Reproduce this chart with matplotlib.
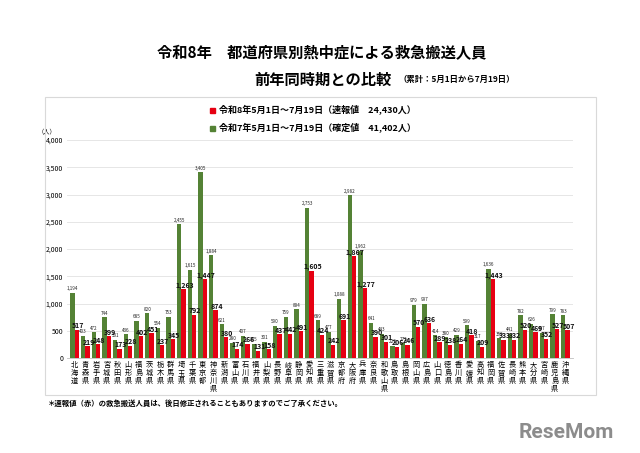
import matplotlib
matplotlib.use("Agg")
import matplotlib.pyplot as plt
from matplotlib.patches import Rectangle
from matplotlib.ticker import FuncFormatter, MultipleLocator

plt.rcParams['font.family'] = ['Noto Sans CJK JP', 'DejaVu Sans']

prefectures = ["北海道", "青森県", "岩手県", "宮城県", "秋田県", "山形県", "福島県", "茨城県", "栃木県", "群馬県",
               "埼玉県", "千葉県", "東京都", "神奈川県", "新潟県", "富山県", "石川県", "福井県", "山梨県", "長野県",
               "岐阜県", "静岡県", "愛知県", "三重県", "滋賀県", "京都府", "大阪府", "兵庫県", "奈良県", "和歌山県",
               "鳥取県", "島根県", "岡山県", "広島県", "山口県", "徳島県", "香川県", "愛媛県", "高知県", "福岡県",
               "佐賀県", "長崎県", "熊本県", "大分県", "宮崎県", "鹿児島県", "沖縄県"]

r7_values = [1194, 403, 472, 744, 331, 436, 685, 820, 554, 753,
             2455, 1615, 3405, 1884, 621, 280, 407, 255, 301, 590,
             759, 894, 2753, 689, 477, 1088, 2982, 1962, 641, 443,
             229, 272, 979, 997, 414, 380, 429, 599, 317, 1636,
             359, 441, 782, 626, 467, 799, 783]

r8_values = [517, 219, 248, 399, 173, 228, 402, 451, 237, 345,
             1263, 792, 1447, 874, 380, 174, 266, 131, 158, 437,
             442, 491, 1605, 424, 242, 691, 1867, 1277, 390, 301,
             206, 246, 570, 636, 289, 238, 264, 418, 209, 1443,
             333, 332, 520, 469, 352, 527, 507]

label_r8 = "令和8年5月1日～7月19日（速報値　24,430人）"
label_r7 = "令和7年5月1日～7月19日（確定値　41,402人）"

RED = "#e60012"
GREEN = "#548235"

fig = plt.figure(figsize=(6.4, 4.53), dpi=100)

# outer chart box
fig.patches.append(Rectangle((45/640, 1-395/453), (596-45)/640, (395-97)/453,
                             transform=fig.transFigure, fill=False, edgecolor="#d9d9d9", lw=0.8))

ax = fig.add_axes([0.105, 1-358/453, 0.79, 218/453])
x = list(range(len(prefectures)))
w = 0.4
ax.bar([i - w/2 for i in x], r7_values, width=w, color=GREEN, zorder=2)
ax.bar([i + w/2 for i in x], r8_values, width=w, color=RED, zorder=2)

for i in x:
    ax.text(i - w/2, r7_values[i] + 30, f"{r7_values[i]:,}", ha="center", va="bottom",
            fontsize=3.3, color="#222222", zorder=3)
    ax.text(i + w/2 + 0.1, r8_values[i] + 10, f"{r8_values[i]:,}", ha="center", va="bottom",
            fontsize=5.0, fontweight="bold", color="#111111", zorder=4)

ax.set_xlim(-0.7, len(prefectures) - 0.3)
ax.set_ylim(0, 4000)
ax.yaxis.set_major_locator(MultipleLocator(500))
ax.yaxis.set_major_formatter(FuncFormatter(lambda v, p: f"{int(v):,}"))
ax.grid(axis="y", color="#e6e6e6", lw=0.7, zorder=0)
for s in ["top", "right", "left"]:
    ax.spines[s].set_visible(False)
ax.spines["bottom"].set_color("#bfbfbf")
ax.spines["bottom"].set_linewidth(0.6)
ax.tick_params(axis="y", length=0, labelsize=5, pad=3)
ax.tick_params(axis="x", length=0, pad=2)
ax.set_xticks(x)
ax.set_xticklabels(["\n".join(p) for p in prefectures], fontsize=5.2, linespacing=1.0)
ax.text(-0.04, 1.02, "（人）", transform=ax.transAxes, fontsize=4.5, ha="center", va="bottom")

# titles
fig.text(322/640, 1-53/453, "令和8年　都道府県別熱中症による救急搬送人員", ha="center", va="center",
         fontsize=11, fontweight="bold")
fig.text(392/640, 1-80/453, "前年同時期との比較", ha="right", va="center", fontsize=11, fontweight="bold")
fig.text(398/640, 1-79/453, "（累計：5月1日から7月19日）", ha="left", va="center", fontsize=6, fontweight="bold")

# legend
fig.patches.append(Rectangle((210/640, 1-113/453), 5/640, 5/453, transform=fig.transFigure,
                             color=RED))
fig.text(219/640, 1-110.5/453, label_r8, ha="left", va="center", fontsize=6.5, fontweight="bold")
fig.patches.append(Rectangle((210/640, 1-131/453), 5/640, 5/453, transform=fig.transFigure,
                             color=GREEN))
fig.text(219/640, 1-128.5/453, label_r7, ha="left", va="center", fontsize=6.5, fontweight="bold")

# footnote
fig.text(48/640, 1-403/453, "＊速報値（赤）の救急搬送人員は、後日修正されることもありますのでご了承ください。",
         ha="left", va="center", fontsize=5.3, fontweight="bold")

# watermark
fig.text(614/640, 1-433/453, "ReseMom", ha="right", va="center", fontsize=15, fontweight="bold",
         color="#8c8c8c", family="Roboto")

fig.savefig("out.png", dpi=100)
